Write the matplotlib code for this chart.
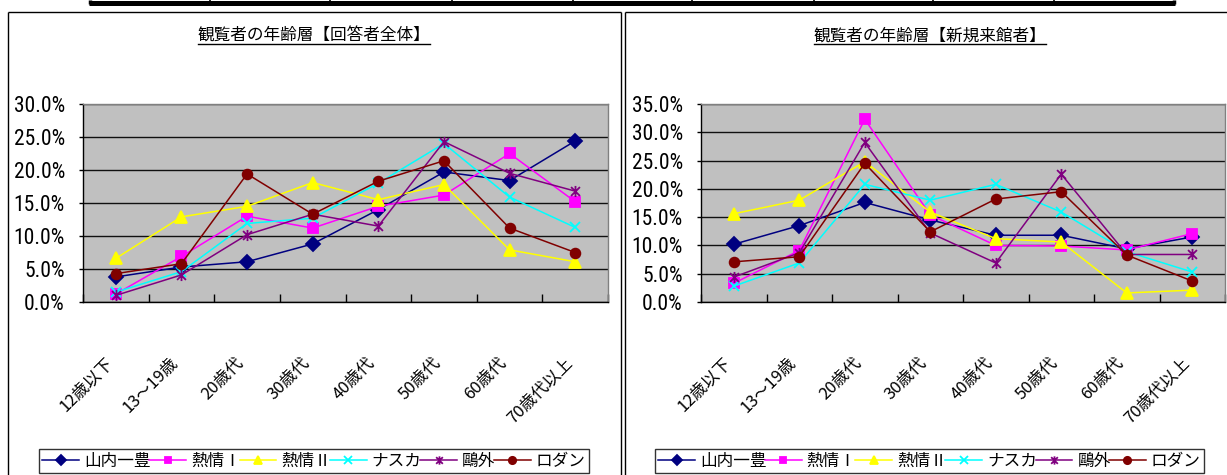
import matplotlib
matplotlib.use("Agg")
import matplotlib.pyplot as plt
from matplotlib.lines import Line2D
from matplotlib.path import Path
from matplotlib.transforms import ScaledTranslation, IdentityTransform
from matplotlib import font_manager

plt.rcParams['font.family'] = ['Noto Sans CJK JP', 'DejaVu Sans']

# ---------------- data ----------------
categories = ['12歳以下', '13～19歳', '20歳代', '30歳代', '40歳代', '50歳代', '60歳代', '70歳代以上']
series_names = ['山内一豊', '熱情Ⅰ', '熱情Ⅱ', 'ナスカ', '鷗外', 'ロダン']

title_all = '観覧者の年齢層【回答者全体】'
title_new = '観覧者の年齢層【新規来館者】'

yamauchi_all = [3.8, 5.3, 6.1, 8.8, 14.0, 19.7, 18.4, 24.4]
netsujo1_all = [1.2, 6.9, 13.0, 11.2, 14.5, 16.2, 22.5, 15.2]
netsujo2_all = [6.6, 12.9, 14.5, 18.1, 15.5, 17.8, 7.9, 6.1]
nasca_all = [1.5, 4.6, 11.9, 12.7, 18.0, 24.0, 15.9, 11.3]
ogai_all = [1.0, 4.1, 10.2, 13.3, 11.5, 24.3, 19.5, 16.8]
rodin_all = [4.3, 5.8, 19.4, 13.3, 18.3, 21.4, 11.2, 7.5]

yamauchi_new = [10.2, 13.5, 17.6, 14.5, 11.8, 11.8, 9.4, 11.5]
netsujo1_new = [3.3, 9.1, 32.3, 15.4, 10.0, 9.9, 9.2, 12.1]
netsujo2_new = [15.6, 18.0, 24.8, 15.9, 11.2, 10.6, 1.6, 2.1]
nasca_new = [2.8, 6.9, 20.8, 18.0, 20.8, 15.9, 8.9, 5.3]
ogai_new = [4.4, 8.7, 28.2, 12.2, 6.9, 22.6, 8.4, 8.4]
rodin_new = [7.1, 8.0, 24.5, 12.4, 18.2, 19.5, 8.3, 3.7]

yticks_all = [0, 5, 10, 15, 20, 25, 30]
yticks_new = [0, 5, 10, 15, 20, 25, 30, 35]

# ---------------- styles ----------------
colors = ['#000080', '#FF00FF', '#FFFF00', '#00FFFF', '#800080', '#800000']
star = Path([(0, -1), (0, 1), (-0.8, -0.8), (0.8, 0.8), (-0.8, 0.8), (0.8, -0.8)],
            [Path.MOVETO, Path.LINETO, Path.MOVETO, Path.LINETO, Path.MOVETO, Path.LINETO])
markers = ['D', 's', '^', 'x', star, 'o']
msizes = [7, 6.5, 8.5, 7.5, 8, 7]


def pick_narrow_font():
    cands = []
    for f in font_manager.fontManager.ttflist:
        st = f.stretch
        if isinstance(st, str):
            narrow = st in ('condensed', 'semi-condensed', 'extra-condensed', 'ultra-condensed')
        else:
            narrow = st <= 87.5
        nm = f.name.lower()
        if (narrow or 'narrow' in nm or 'condensed' in nm) and f.style == 'normal':
            w = f.weight if isinstance(f.weight, int) else 400
            if 350 <= w <= 500 and 'cjk' not in nm and 'mono' not in nm:
                cands.append(f)
    pref = ['liberation sans narrow', 'roboto condensed', 'noto sans', 'open sans', 'dejavu sans']
    for p in pref:
        for f in cands:
            if f.name.lower().startswith(p):
                return font_manager.FontProperties(fname=f.fname, size=15.5), True
    if cands:
        return font_manager.FontProperties(fname=cands[0].fname, size=15.5), True
    return font_manager.FontProperties(family='DejaVu Sans', size=13), False


ytick_fp, _narrow = pick_narrow_font()

W, H = 1227, 475
fig = plt.figure(figsize=(W / 100, H / 100), dpi=100)


def fx(px):
    return px / W


def fy(py):
    return 1 - py / H


def fig_line(xs, ys, lw, color='black'):
    fig.add_artist(Line2D([fx(x) for x in xs], [fy(y) for y in ys], lw=lw, color=color,
                          transform=fig.transFigure, solid_capstyle='butt'))


# top table strip
fig_line([89, 1175], [2.5, 2.5], 3.6)
for xv in [210, 330, 452, 573, 692, 814, 933, 1054]:
    fig_line([xv, xv], [0, 4], 1.2)
fig_line([90, 90], [0, 4], 2.5)
fig_line([1174, 1174], [0, 4], 2.5)

# chart frames
fig_line([8, 8], [12, 475], 1.0)
fig_line([8, 621], [12, 12], 1.0)
fig_line([621, 621], [12, 475], 1.0)
fig_line([624.5, 624.5], [12, 475], 1.0)
fig_line([624.5, 1227], [12, 12], 1.0)


def make_chart(rect, data, yticks, title, title_x, legend_rect):
    ax = fig.add_axes(rect)
    ax.set_facecolor('#C0C0C0')
    x = list(range(len(categories)))
    handles = []
    for vals, name, c, m, ms in zip(data, series_names, colors, markers, msizes):
        h, = ax.plot(x, [v / 100 for v in vals], color=c, lw=1.1, marker=m, ms=ms,
                     mfc=c, mec=c, mew=1.3, label=name, zorder=3, clip_on=False)
        handles.append(h)
    ax.set_xlim(-0.5, len(categories) - 0.5)
    ax.set_ylim(0, yticks[-1] / 100)
    ax.set_yticks([t / 100 for t in yticks])
    ax.set_yticklabels([f'{t:.1f}%' for t in yticks])
    for lab in ax.get_yticklabels():
        lab.set_fontproperties(ytick_fp)
    ax.yaxis.grid(True, color='#101010', lw=1.0)
    ax.set_axisbelow(True)
    ax.tick_params(axis='y', direction='out', length=3, width=1, pad=10)
    ax.set_xticks(x)
    ax.set_xticklabels(categories, rotation=45, ha='right', va='center',
                       rotation_mode='anchor', fontsize=12)
    ax.set_xticks([i + 0.5 for i in range(-1, len(categories))], minor=True)
    ax.tick_params(axis='x', which='major', length=0, pad=42)
    ax.tick_params(axis='x', which='minor', direction='in', length=6, width=1)
    off = ScaledTranslation(-4 / 72, 0, fig.dpi_scale_trans)
    for lab in ax.get_xticklabels():
        lab.set_transform(lab.get_transform() + off)
    for s in ['left', 'bottom']:
        ax.spines[s].set_color('black')
        ax.spines[s].set_linewidth(1.0)
    for s in ['top', 'right']:
        ax.spines[s].set_color('#808080')
        ax.spines[s].set_linewidth(1.0)
    t = fig.text(fx(title_x), fy(36), title, ha='center', va='center', fontsize=12)
    leg = fig.legend(handles=handles, loc='lower left', bbox_to_anchor=legend_rect,
                     bbox_transform=fig.transFigure, mode='expand', ncol=6,
                     fontsize=12, frameon=True, fancybox=False, edgecolor='black',
                     handlelength=2.2, handletextpad=0.3, columnspacing=0.5,
                     borderpad=0.2, borderaxespad=0, markerscale=0.75)
    leg.get_frame().set_linewidth(1.0)
    return ax, t


ax1, t1 = make_chart([fx(83), fy(302), fx(608) - fx(83), fy(104) - fy(302)],
                     [yamauchi_all, netsujo1_all, netsujo2_all, nasca_all, ogai_all, rodin_all],
                     yticks_all, title_all, 314,
                     (fx(39), fy(473), fx(589) - fx(39), fy(441) - fy(473)))
ax2, t2 = make_chart([fx(701), fy(302), fx(1225) - fx(701), fy(104) - fy(302)],
                     [yamauchi_new, netsujo1_new, netsujo2_new, nasca_new, ogai_new, rodin_new],
                     yticks_new, title_new, 930,
                     (fx(655), fy(473), fx(1204) - fx(655), fy(441) - fy(473)))

# underline titles
fig.canvas.draw()
r = fig.canvas.get_renderer()
for t in (t1, t2):
    bb = t.get_window_extent(r)
    fig.add_artist(Line2D([bb.x0, bb.x1], [bb.y0 + 1, bb.y0 + 1], lw=1.0, color='black',
                          transform=IdentityTransform()))

fig.savefig('out.png', dpi=100)
